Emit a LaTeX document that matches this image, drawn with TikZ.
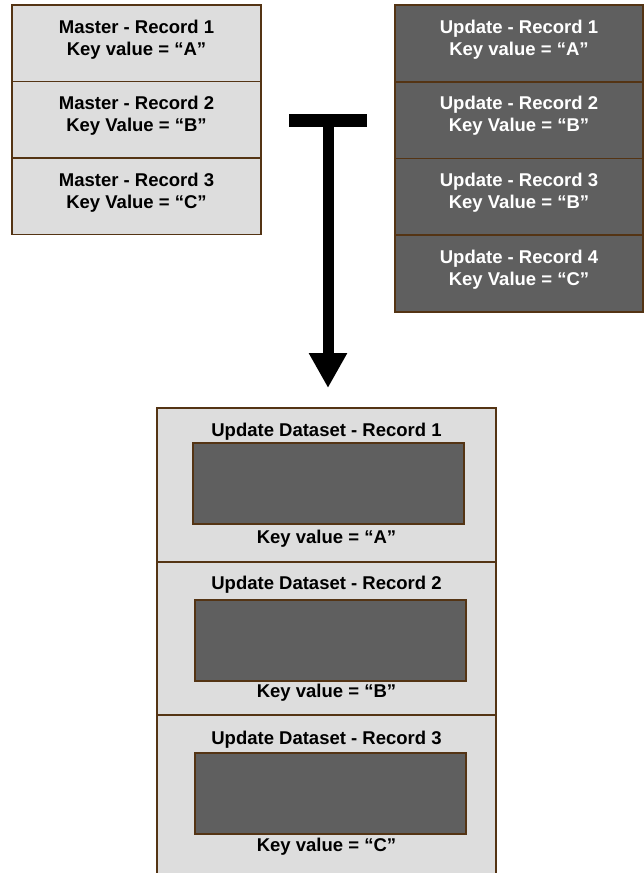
\documentclass[tikz,border=0pt]{standalone}
\usepackage{fontspec}
\setmainfont{Liberation Sans}
\usepackage{tikz}
\usetikzlibrary{arrows.meta}
\usetikzlibrary{positioning}

\definecolor{recline}{RGB}{84,52,20}
\definecolor{reclight}{RGB}{221,221,221}
\definecolor{recdark}{RGB}{95,95,95}

\tikzset{
    recbox/.style={draw=recline, line width=1.8pt, inner sep=0pt, outer sep=0pt},
    masterrec/.style={recbox, fill=reclight, minimum width=249pt, minimum height=76.5pt},
    updaterec/.style={recbox, fill=recdark, minimum width=248pt, minimum height=76.75pt},
    datarec/.style={recbox, fill=reclight, minimum width=339pt},
    innerbox/.style={recbox, fill=recdark, minimum width=271pt, minimum height=81pt, anchor=north},
    rectext/.style={inner sep=0pt, anchor=north, align=center, font=\fontsize{18.5}{22}\selectfont\bfseries},
    datatext/.style={inner sep=0pt, anchor=base, font=\fontsize{18.5}{22}\selectfont\bfseries}
}

\begin{document}
\begin{tikzpicture}[x=1pt, y=-1pt]
            \useasboundingbox (0,0) rectangle (644,873);

            % master dataset
            \node[masterrec, anchor=north west] (m1) at (12,5) {};
            \node[masterrec, below=0pt of m1] (m2) {};
            \node[masterrec, below=0pt of m2] (m3) {};
            \node[rectext] (m1t) at ([yshift=-14.5pt]m1.north) {Master - Record 1\\Key value = “A”};
            \node[rectext] (m2t) at ([yshift=-14.5pt]m2.north) {Master - Record 2\\Key Value = “B”};
            \node[rectext] (m3t) at ([yshift=-14.5pt]m3.north) {Master - Record 3\\Key Value = “C”};

            % update dataset
            \node[updaterec, anchor=north west] (u1) at (395,5) {};
            \node[updaterec, below=0pt of u1] (u2) {};
            \node[updaterec, below=0pt of u2] (u3) {};
            \node[updaterec, below=0pt of u3] (u4) {};
            \node[rectext, text=white] (u1t) at ([yshift=-14.5pt]u1.north) {Update - Record 1\\Key value = “A”};
            \node[rectext, text=white] (u2t) at ([yshift=-14.5pt]u2.north) {Update - Record 2\\Key Value = “B”};
            \node[rectext, text=white] (u3t) at ([yshift=-14.5pt]u3.north) {Update - Record 3\\Key Value = “B”};
            \node[rectext, text=white] (u4t) at ([yshift=-14.5pt]u4.north) {Update - Record 4\\Key Value = “C”};

            % arrow
            \node[fill=black, inner sep=0pt, outer sep=0pt, minimum width=78pt, minimum height=13pt] (tbar) at (328,120.5) {};
            \coordinate (arrowend) at (328,388);
            \draw[line width=11pt, -{Triangle[length=35pt, width=36pt]}] (tbar.south) -- (arrowend);

            % result
            \node[datarec, anchor=north west, minimum height=154pt] (d1) at (157,408) {};
            \node[datarec, below=0pt of d1, minimum height=153pt] (d2) {};
            \node[datarec, below=0pt of d2, minimum height=170pt] (d3) {};

            \node[datatext] (t1) at ([yshift=-28pt]d1.north) {Update Dataset - Record 1};
            \node[innerbox] (in1) at ([xshift=2pt, yshift=-35pt]d1.north) {};
            \node[datatext] (k1) at ([yshift=-135pt]d1.north) {Key value = “A”};

            \node[datatext] (t2) at ([yshift=-27pt]d2.north) {Update Dataset - Record 2};
            \node[innerbox] (in2) at ([xshift=4pt, yshift=-38pt]d2.north) {};
            \node[datatext] (k2) at ([yshift=-135pt]d2.north) {Key value = “B”};

            \node[datatext] (t3) at ([yshift=-29pt]d3.north) {Update Dataset - Record 3};
            \node[innerbox] (in3) at ([xshift=4pt, yshift=-38pt]d3.north) {};
            \node[datatext] (k3) at ([yshift=-136pt]d3.north) {Key value = “C”};
        \end{tikzpicture}
\end{document}
